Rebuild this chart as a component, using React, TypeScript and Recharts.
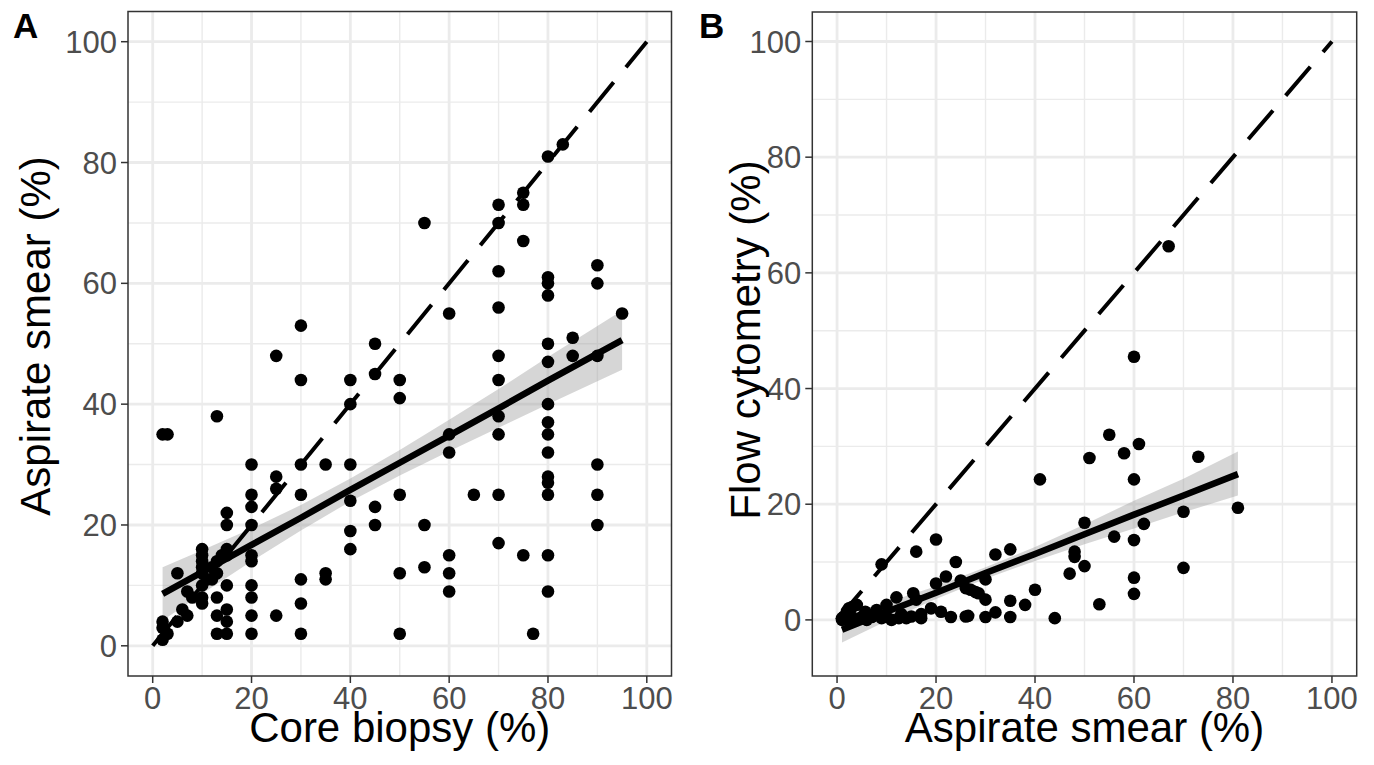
import React from 'react';
import { ComposedChart, XAxis, YAxis, CartesianGrid, Scatter, Area, Line, ReferenceLine } from 'recharts';

const FONT = '"Liberation Sans", Arial, Helvetica, sans-serif';

// ---------- shared ticks ----------
const majorTicks = [0, 20, 40, 60, 80, 100];
const minorTicks = [10, 30, 50, 70, 90];
const identityLine = [0, 100];

// ---------- Panel A: Core biopsy (x) vs Aspirate smear (y) ----------
const panelAPoints: [number, number][] = [
  [2, 35], [3, 35], [13, 38], [2, 1], [2, 3], [2, 4], [3, 2], [5, 4], [6, 6], [7, 5], [5, 12],
  [7, 9], [8, 8], [10, 7], [10, 8], [10, 10], [10, 12], [10, 13], [10, 14], [10, 15], [10, 16],
  [11, 11], [12, 11], [12, 13], [13, 12], [13, 14], [14, 15], [15, 16], [15, 15], [15, 10],
  [13, 8], [13, 5], [13, 2], [15, 6], [15, 4], [15, 2], [15, 20], [15, 22],
  [20, 30], [20, 25], [20, 23], [20, 20], [20, 15], [20, 14], [20, 10], [20, 8], [20, 5], [20, 2],
  [25, 48], [25, 28], [25, 26], [25, 5],
  [30, 53], [30, 44], [30, 30], [30, 25], [30, 11], [30, 7], [30, 2],
  [35, 30], [35, 12], [35, 11],
  [40, 44], [40, 40], [40, 30], [40, 24], [40, 19], [40, 16],
  [45, 50], [45, 45], [45, 23], [45, 20],
  [50, 44], [50, 41], [50, 25], [50, 12], [50, 2],
  [55, 70], [55, 20], [55, 13],
  [60, 55], [60, 35], [60, 32], [60, 15], [60, 12], [60, 9],
  [65, 25],
  [70, 73], [70, 70], [70, 62], [70, 56], [70, 48], [70, 44], [70, 38], [70, 35], [70, 25], [70, 17],
  [75, 75], [75, 73], [75, 67], [75, 15], [77, 2],
  [80, 81], [80, 61], [80, 60], [80, 58], [80, 50], [80, 47], [80, 40], [80, 37], [80, 35],
  [80, 32], [80, 28], [80, 27], [80, 25], [80, 15], [80, 9],
  [83, 83], [85, 51], [85, 48],
  [90, 63], [90, 60], [90, 48], [90, 30], [90, 25], [90, 20],
  [95, 55],
];
const ribbonXA = [2, 10, 20, 30, 40, 50, 60, 70, 80, 95];
const fitA = [8.6, 12.2, 16.7, 21.2, 25.8, 30.3, 34.8, 39.3, 43.9, 50.6];
const lowerA = [4.2, 8.6, 14.0, 19.1, 23.9, 28.2, 32.2, 36.1, 40.0, 45.7];
const upperA = [13.0, 15.8, 19.4, 23.3, 27.7, 32.4, 37.4, 42.5, 47.8, 55.5];

// ---------- Panel B: Aspirate smear (x) vs Flow cytometry (y) ----------
const panelBPoints: [number, number][] = [
  [1, 0], [1, 0.3], [1.4, 0.6], [2, 0], [2, 1.5], [2.4, 2], [3, 2.2], [3, 0.5], [4, 2.6], [4, 0],
  [5, 0.5], [5.7, 1.4], [6, 0], [7, 0.5], [8, 1.7], [9, 0.3], [9, 9.6], [10, 2.6], [10, 0.5],
  [11, 0], [12, 3.9], [12.5, 0.3], [13, 1], [14, 0.3], [15, 0.6], [15.4, 4.6], [16, 11.8],
  [16, 3.5], [17, 0.3], [17, 1], [19, 2], [20, 13.9], [20, 6.3], [21, 1.4], [22, 7.5], [23, 0.5],
  [24, 10], [25, 6.8], [26, 0.6], [26.5, 0.7], [26, 5.5], [27, 5.2], [28, 4.8], [28.6, 4.6],
  [30, 7], [30, 3.5], [30, 0.5], [32, 11.3], [32, 1.3], [35, 12.2], [35, 3.3], [35, 0.5],
  [38, 2.6], [40, 5.2], [41, 24.3], [44, 0.3], [47, 8], [48, 11.8], [48, 10.9], [50, 16.8],
  [50, 9.3], [51, 28], [53, 2.7], [55, 32], [56, 14.4], [58, 28.8], [60, 45.5], [60, 24.3],
  [60, 13.8], [60, 7.3], [60, 4.5], [61, 30.4], [62, 16.6], [67, 64.6], [70, 18.7], [70, 9],
  [73, 28.2], [81, 19.4],
];
const ribbonXB = [1, 10, 20, 30, 40, 50, 60, 70, 81];
const fitB = [-1.7, 1.4, 4.7, 8.1, 11.4, 14.8, 18.2, 21.5, 25.2];
const lowerB = [-3.9, -0.2, 3.6, 7.1, 10.2, 13.1, 15.8, 18.6, 21.5];
const upperB = [0.5, 3.0, 5.8, 9.1, 12.6, 16.5, 20.6, 24.4, 29.1];

const toRibbon = (xs: number[], fit: number[], lo: number[], hi: number[]) =>
  xs.map((x, i) => ({ x, fit: fit[i], lo: lo[i], hi: hi[i] }));
const toPoints = (pts: [number, number][]) => pts.map(([x, y]) => ({ x, y }));

type PanelProps = {
  chartLeft: number;
  chartWidth: number;
  plotLeft: number;
  plotRight: number;
  plotTop: number;
  plotBottom: number;
  xDomain: [number, number];
  yDomain: [number, number];
  points: { x: number; y: number }[];
  ribbon: { x: number; fit: number; lo: number; hi: number }[];
};

const TOTAL_H = 765;

function Panel(p: PanelProps) {
  const { chartLeft, chartWidth, plotLeft, plotRight, plotTop, plotBottom, xDomain, yDomain } = p;
  const vGen = (vals: number[]) => (props: any) => {
    const o = props.offset;
    return vals.map((v) => o.left + ((v - xDomain[0]) / (xDomain[1] - xDomain[0])) * o.width);
  };
  const hGen = (vals: number[]) => (props: any) => {
    const o = props.offset;
    return vals.map((v) => o.top + ((yDomain[1] - v) / (yDomain[1] - yDomain[0])) * o.height);
  };
  const tickStyle = { fontSize: 31, fill: '#4d4d4d', fontFamily: FONT };
  return (
    <div style={{ position: 'absolute', left: chartLeft, top: 0 }}>
      <ComposedChart
        width={chartWidth}
        height={TOTAL_H}
        data={p.ribbon}
        margin={{ top: plotTop, right: chartLeft + chartWidth - plotRight, bottom: 0, left: 0 }}
      >
        <CartesianGrid
          stroke="#ebebeb"
          strokeWidth={1.4}
          verticalCoordinatesGenerator={vGen(minorTicks)}
          horizontalCoordinatesGenerator={hGen(minorTicks)}
        />
        <CartesianGrid
          stroke="#ebebeb"
          strokeWidth={2.8}
          verticalCoordinatesGenerator={vGen(majorTicks)}
          horizontalCoordinatesGenerator={hGen(majorTicks)}
        />
        <XAxis
          dataKey="x"
          type="number"
          domain={xDomain}
          ticks={majorTicks}
          allowDataOverflow
          height={TOTAL_H - plotBottom}
          axisLine={false}
          tickSize={7}
          tickMargin={4}
          tickLine={{ stroke: '#333333', strokeWidth: 1.5 }}
          tick={tickStyle}
        />
        <YAxis
          dataKey="y"
          type="number"
          domain={yDomain}
          ticks={majorTicks}
          allowDataOverflow
          width={plotLeft - chartLeft}
          axisLine={false}
          tickSize={7}
          tickMargin={4}
          tickLine={{ stroke: '#333333', strokeWidth: 1.5 }}
          tick={tickStyle}
        />
        <Scatter
          data={p.points}
          isAnimationActive={false}
          shape={(s: any) => <circle cx={s.cx} cy={s.cy} r={6.3} fill="#000000" />}
        />
        <Area
          dataKey={(d: any) => [d.lo, d.hi]}
          type="linear"
          stroke="none"
          fill="#999999"
          fillOpacity={0.4}
          isAnimationActive={false}
          activeDot={false}
        />
        <Line
          dataKey="fit"
          type="linear"
          stroke="#000000"
          strokeWidth={6.5}
          dot={false}
          activeDot={false}
          isAnimationActive={false}
        />
        <ReferenceLine
          segment={[
            { x: identityLine[0], y: identityLine[0] },
            { x: identityLine[1], y: identityLine[1] },
          ]}
          stroke="#000000"
          strokeWidth={4}
          strokeDasharray="38 19.5"
          ifOverflow="visible"
        />
      </ComposedChart>
    </div>
  );
}

const A = { left: 128, right: 671.5, top: 11.5, bottom: 676 };
const B = { left: 812.3, right: 1356.7, top: 12, bottom: 676 };

export default function App() {
  return (
    <div style={{ position: 'absolute', left: 0, top: 0, width: 1374, height: 765, background: '#ffffff', fontFamily: FONT }}>
      <Panel
        chartLeft={0}
        chartWidth={690}
        plotLeft={A.left}
        plotRight={A.right}
        plotTop={A.top}
        plotBottom={A.bottom}
        xDomain={[-5, 105]}
        yDomain={[-5, 105]}
        points={toPoints(panelAPoints)}
        ribbon={toRibbon(ribbonXA, fitA, lowerA, upperA)}
      />
      <Panel
        chartLeft={690}
        chartWidth={684}
        plotLeft={B.left}
        plotRight={B.right}
        plotTop={B.top}
        plotBottom={B.bottom}
        xDomain={[-5, 105]}
        yDomain={[-9.7, 105.1]}
        points={toPoints(panelBPoints)}
        ribbon={toRibbon(ribbonXB, fitB, lowerB, upperB)}
      />
      <svg width={1374} height={765} style={{ position: 'absolute', left: 0, top: 0, pointerEvents: 'none' }}>
        <rect x={A.left} y={A.top} width={A.right - A.left} height={A.bottom - A.top} fill="none" stroke="#333333" strokeWidth={1.5} />
        <rect x={B.left} y={B.top} width={B.right - B.left} height={B.bottom - B.top} fill="none" stroke="#333333" strokeWidth={1.5} />
        <text x={13} y={38} fontSize={35} fontWeight="bold" fontFamily={FONT} fill="#000">A</text>
        <text x={699} y={38} fontSize={35} fontWeight="bold" fontFamily={FONT} fill="#000">B</text>
        <text x={(A.left + A.right) / 2} y={742} fontSize={42} textAnchor="middle" fontFamily={FONT} fill="#000">Core biopsy (%)</text>
        <text x={(B.left + B.right) / 2} y={742} fontSize={42} textAnchor="middle" fontFamily={FONT} fill="#000">Aspirate smear (%)</text>
        <text transform={`translate(50, 336) rotate(-90)`} fontSize={42} textAnchor="middle" fontFamily={FONT} fill="#000">Aspirate smear (%)</text>
        <text transform={`translate(760, 340) rotate(-90)`} fontSize={42} textAnchor="middle" fontFamily={FONT} fill="#000">Flow cytometry (%)</text>
      </svg>
    </div>
  );
}
